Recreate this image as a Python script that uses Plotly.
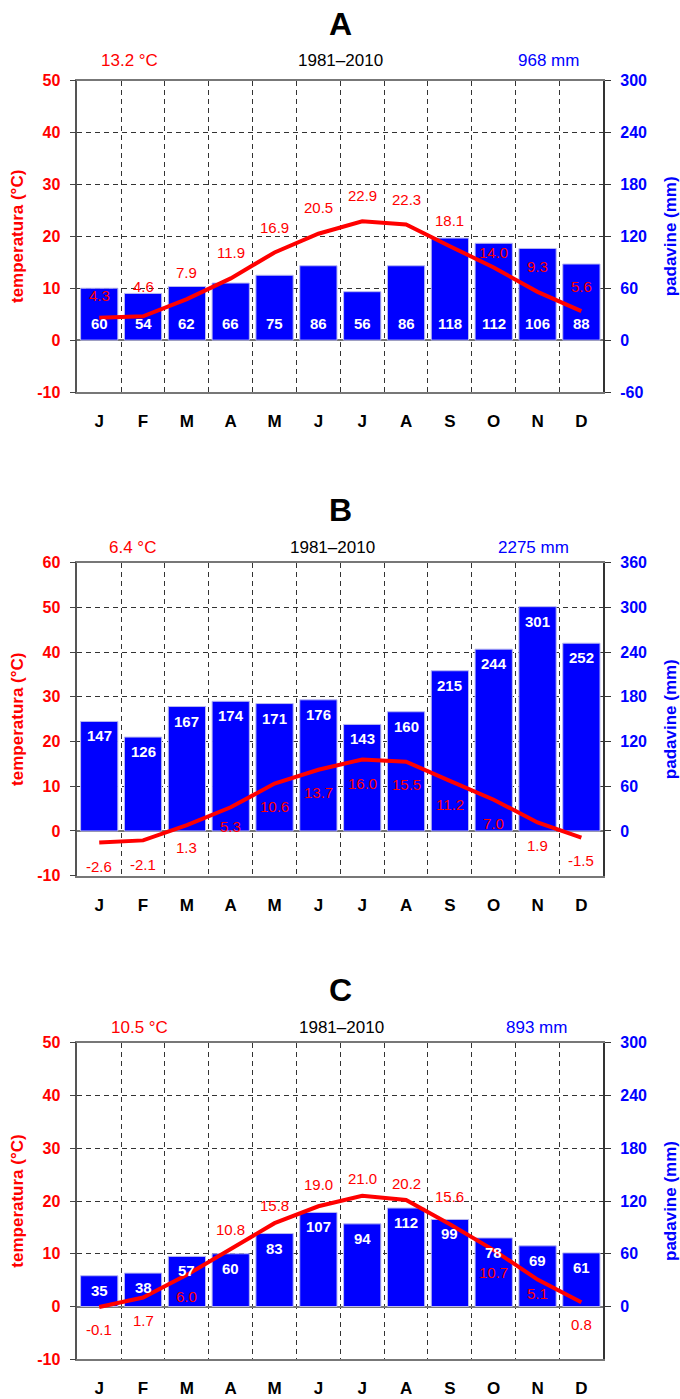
import plotly.graph_objects as go

W, H = 680, 1399

months = ["J", "F", "M", "A", "M", "J", "J", "A", "S", "O", "N", "D"]
period = "1981–2010"

panel_names = ["A", "B", "C"]
mean_temp = ["13.2 °C", "6.4 °C", "10.5 °C"]
total_precip = ["968 mm", "2275 mm", "893 mm"]

temp_A = [4.3, 4.6, 7.9, 11.9, 16.9, 20.5, 22.9, 22.3, 18.1, 14.0, 9.3, 5.6]
prec_A = [60, 54, 62, 66, 75, 86, 56, 86, 118, 112, 106, 88]

temp_B = [-2.6, -2.1, 1.3, 5.3, 10.6, 13.7, 16.0, 15.5, 11.2, 7.0, 1.9, -1.5]
prec_B = [147, 126, 167, 174, 171, 176, 143, 160, 215, 244, 301, 252]

temp_C = [-0.1, 1.7, 6.0, 10.8, 15.8, 19.0, 21.0, 20.2, 15.6, 10.7, 5.1, 0.8]
prec_C = [35, 38, 57, 60, 83, 107, 94, 112, 99, 78, 69, 61]

temp_ticks_A = [-10, 0, 10, 20, 30, 40, 50]
temp_ticks_B = [-10, 0, 10, 20, 30, 40, 50, 60]
temp_ticks_C = [-10, 0, 10, 20, 30, 40, 50]
prec_ticks_A = [-60, 0, 60, 120, 180, 240, 300]
prec_ticks_B = [0, 60, 120, 180, 240, 300, 360]
prec_ticks_C = [0, 60, 120, 180, 240, 300]

# ---- layout / styling (not data) ----
RED = "#ff0000"
BLUE = "#0000ff"
FONT = "Liberation Sans, Arial, Helvetica, sans-serif"

# pixel offsets of temperature labels relative to the point (+ above, - below)
toff_A = [22, 30, 27, 26, 25, 26, 26, 25, 26, 15, 25, 25]
toff_B = [-24, -24, -22, -19, -23, -23, -24, -23, -24, -24, -23, -23]
toff_C = [-22, -23, -22, 20, 18, 22, 17, 16, 28, -22, -14, -22]

panels = [
    dict(name=panel_names[0], mt=mean_temp[0], tp=total_precip[0], temp=temp_A, prec=prec_A,
         tt=temp_ticks_A, pt=prec_ticks_A, trange=[-10, 50], prange=[-60, 300],
         top=80.7, bot=392.0, title_y=24, head_y=60.5, toff=toff_A, bar_lab="bottom",
         head_x=[129, 340, 548]),
    dict(name=panel_names[1], mt=mean_temp[1], tp=total_precip[1], temp=temp_B, prec=prec_B,
         tt=temp_ticks_B, pt=prec_ticks_B, trange=[-10, 60], prange=[-60, 360],
         top=562.7, bot=875.7, title_y=510, head_y=547, toff=toff_B, bar_lab="top",
         head_x=[132, 332, 533]),
    dict(name=panel_names[2], mt=mean_temp[2], tp=total_precip[2], temp=temp_C, prec=prec_C,
         tt=temp_ticks_C, pt=prec_ticks_C, trange=[-10, 50], prange=[-60, 300],
         top=1042.7, bot=1359.3, title_y=990, head_y=1027, toff=toff_C, bar_lab="top",
         head_x=[139, 341, 536]),
]

X0, X1 = 77.3, 603.3


def py(p):
    return 1 - p / H


def px(p):
    return p / W


fig = go.Figure()
layout = dict(
    width=W, height=H, autosize=False,
    margin=dict(l=0, r=0, t=0, b=0, autoexpand=False),
    paper_bgcolor="white", plot_bgcolor="white",
    showlegend=False,
    font=dict(family=FONT),
)
annotations = []
xpos = list(range(1, len(months) + 1))

for i, p in enumerate(panels):
    xn = "x" if i == 0 else f"x{i + 1}"
    pn = "y" if i == 0 else f"y{2 * i + 1}"     # precipitation (base)
    tn = f"y{2 * i + 2}"                          # temperature (overlay)
    xk = "xaxis" if i == 0 else f"xaxis{i + 1}"
    pk = "yaxis" if i == 0 else f"yaxis{2 * i + 1}"
    tk = f"yaxis{2 * i + 2}"
    dom = [py(p["bot"]), py(p["top"])]

    fig.add_trace(go.Bar(
        x=xpos, y=p["prec"], xaxis=xn, yaxis=pn, width=0.85,
        marker=dict(color=BLUE, line=dict(width=1, color="#b8b8f0")), hoverinfo="skip",
    ))
    fig.add_trace(go.Scatter(
        x=xpos, y=p["temp"], xaxis=xn, yaxis=tn, mode="lines",
        line=dict(color=RED, width=4), hoverinfo="skip",
    ))

    layout[xk] = dict(
        domain=[px(X0), px(X1)], anchor=pn, range=[0.5, 12.5], automargin=False,
        tickmode="array", tickvals=xpos, ticktext=months,
        tickfont=dict(size=17, color="black", family=FONT, weight="bold"),
        ticks="", ticklabelstandoff=13,
        showgrid=False, zeroline=False,
        showline=True, linecolor="#777", linewidth=1.5, mirror=True,
        minor=dict(tickmode="array", tickvals=[k + 0.5 for k in xpos[:-1]],
                   showgrid=True, gridcolor="#333", gridwidth=1, griddash="5px,4px",
                   ticks=""),
        fixedrange=True,
    )
    layout[pk] = dict(
        domain=dom, anchor=xn, side="right", range=p["prange"], automargin=False,
        tickmode="array", tickvals=p["pt"], ticktext=[str(v) for v in p["pt"]],
        tickfont=dict(size=16, color=BLUE, family=FONT, weight="bold"),
        ticks="outside", ticklen=6, tickcolor="#333", tickwidth=1.2,
        ticklabelstandoff=6,
        showgrid=False, zeroline=False,
        showline=True, linecolor="#333", linewidth=1.5,
        title=dict(text="padavine (mm)",
                   font=dict(size=17, color=BLUE, family=FONT, weight="bold"),
                   standoff=18),
        fixedrange=True,
    )
    layout[tk] = dict(
        domain=dom, anchor=xn, overlaying=pn, side="left", range=p["trange"], automargin=False,
        tickmode="array", tickvals=p["tt"], ticktext=[str(v) for v in p["tt"]],
        tickfont=dict(size=16, color=RED, family=FONT, weight="bold"),
        ticks="outside", ticklen=6, tickcolor="#444", tickwidth=1.2,
        ticklabelstandoff=6,
        showgrid=True, gridcolor="#333", gridwidth=1, griddash="5px,4px",
        zeroline=True, zerolinecolor="#777", zerolinewidth=1.6,
        showline=True, linecolor="#555", linewidth=1.5,
        title=dict(text="temperatura (°C)",
                   font=dict(size=17, color=RED, family=FONT, weight="bold"),
                   standoff=9),
        fixedrange=True,
    )

    # panel title and header line
    annotations.append(dict(xref="paper", yref="paper", x=px(340), y=py(p["title_y"]),
                            text=p["name"], showarrow=False, xanchor="center", yanchor="middle",
                            font=dict(size=32, color="black", family=FONT, weight="bold")))
    for txt, hx, col in zip([p["mt"], period, p["tp"]], p["head_x"], [RED, "black", BLUE]):
        annotations.append(dict(xref="paper", yref="paper", x=px(hx), y=py(p["head_y"]),
                                text=txt, showarrow=False, xanchor="center", yanchor="middle",
                                font=dict(size=17, color=col, family=FONT)))

    # precipitation labels (white, in bars)
    for xv, v in zip(xpos, p["prec"]):
        if p["bar_lab"] == "bottom":
            annotations.append(dict(xref=xn, yref=pn, x=xv, y=0, yshift=17, text=str(v),
                                    showarrow=False, yanchor="middle",
                                    font=dict(size=15, color="white", family=FONT, weight="bold")))
        else:
            annotations.append(dict(xref=xn, yref=pn, x=xv, y=v, yshift=-14.5, text=str(v),
                                    showarrow=False, yanchor="middle",
                                    font=dict(size=15, color="white", family=FONT, weight="bold")))

    # temperature labels (red)
    for xv, t, off in zip(xpos, p["temp"], p["toff"]):
        annotations.append(dict(xref=xn, yref=tn, x=xv, y=t, yshift=off, text=f"{t:.1f}",
                                showarrow=False, yanchor="middle",
                                font=dict(size=15, color=RED, family=FONT)))

layout["annotations"] = annotations
fig.update_layout(**layout)
fig.write_html("out.html", config={"displayModeBar": False},
               post_script="document.body.style.margin='0px';document.body.style.overflow='hidden';")
